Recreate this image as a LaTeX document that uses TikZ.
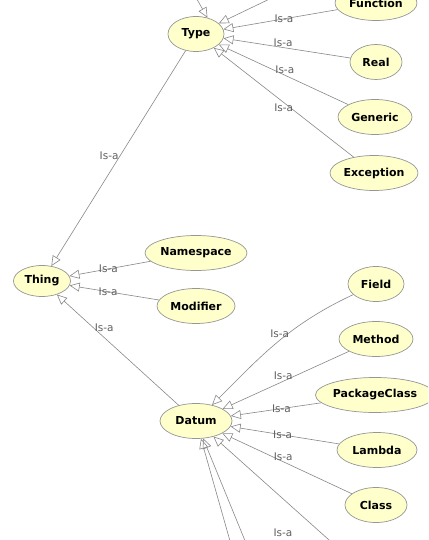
\documentclass[tikz,border=0pt]{standalone}
\usepackage{fontspec}
\setmainfont{DejaVu Sans}
\usetikzlibrary{shapes.geometric,arrows.meta}
\definecolor{fond}{RGB}{255,255,204}
\definecolor{bord}{RGB}{150,150,150}
\definecolor{trait}{RGB}{135,135,135}
\tikzset{
  concept/.style={ellipse, draw=bord, line width=0.7pt, fill=fond, inner sep=0pt, minimum height=35pt,
    font=\fontsize{11}{13}\selectfont\bfseries},
  lien/.style={draw=trait, line width=0.6pt, -{Triangle[open, length=10pt, width=9pt]}},
  isa/.style={inner sep=1pt, text=gray!75!black, font=\fontsize{10.5}{12}\selectfont}
}

\begin{document}
\begin{tikzpicture}[x=1pt,y=-1pt]
      \useasboundingbox (0,0) rectangle (428,540);
      \clip (0,0) rectangle (428,540);

      % Concepts
      \node[concept, minimum width=56pt] (type) at (196,34) {Type};
      \node[concept, minimum width=82pt] (function) at (376,3) {Function};
      \node[concept, minimum width=52pt] (real) at (376,62) {Real};
      \node[concept, minimum width=74pt] (generic) at (375,117) {Generic};
      \node[concept, minimum width=88pt] (exception) at (374,173) {Exception};
      \node[concept, minimum width=57pt, minimum height=31pt] (thing) at (42,281) {Thing};
      \node[concept, minimum width=102pt] (namespace) at (196,253) {Namespace};
      \node[concept, minimum width=78pt] (modifier) at (196,306) {Modifier};
      \node[concept, minimum width=56pt] (field) at (376,284) {Field};
      \node[concept, minimum width=74pt] (method) at (376,339) {Method};
      \node[concept] (packageclass) at (375,395) {PackageClass};
      \node[concept, minimum width=72pt] (datum) at (196,421) {Datum};
      \node[concept, minimum width=80pt] (lambda) at (377,450) {Lambda};
      \node[concept, minimum width=62pt] (class) at (376,505) {Class};

      % Bouts hors cadre
      \coordinate (hautA) at (194,-6);
      \coordinate (hautB) at (280,-6);
      \coordinate (basA) at (232,548);
      \coordinate (basB) at (248,548);
      \coordinate (basC) at (338,548);

      % Liens vers Type
      \draw[lien] (hautA) -- (type.55);
      \draw[lien] (hautB) -- (type.25);
      \draw[lien] (function) -- node[isa, pos=.47] {Is-a} (type);
      \draw[lien] (real) -- node[isa, pos=.53, above] {Is-a} (type);
      \draw[lien] (generic) -- node[isa, pos=.49, above] {Is-a} (type);
      \draw[lien] (exception) -- node[isa, pos=.5, below] {Is-a} (type);

      % Liens vers Thing
      \draw[lien] (type) -- node[isa, pos=.49, left] {Is-a} (thing);
      \draw[lien] (namespace) -- node[isa, pos=.52] {Is-a} (thing);
      \draw[lien] (modifier) -- node[isa, pos=.57] {Is-a} (thing);
      \draw[lien] (datum) -- node[isa, pos=.70, right] {Is-a} (thing);

      % Liens vers Datum
      \draw[lien] (field) to[out=205, in=45] node[isa, pos=.42, xshift=-8pt] {Is-a} (datum);
      \draw[lien] (method) -- node[isa, pos=.52, above] {Is-a} (datum);
      \draw[lien] (packageclass) -- node[isa, pos=.44] {Is-a} (datum);
      \draw[lien] (lambda) -- node[isa, pos=.52] {Is-a} (datum);
      \draw[lien] (class) -- node[isa, pos=.53, above] {Is-a} (datum);
      \draw[lien] (basA) -- (datum);
      \draw[lien] (basB) -- (datum);
      \draw[lien] (basC) -- (datum);
      \node[isa] (isabas) at (283,533) {Is-a};
    \end{tikzpicture}
\end{document}
